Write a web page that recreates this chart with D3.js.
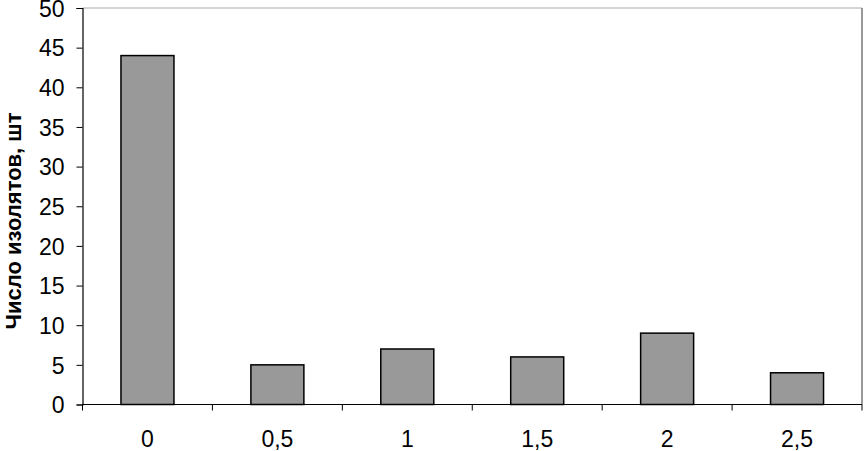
<!DOCTYPE html>
<html><head><meta charset="utf-8">
<script src="https://cdn.jsdelivr.net/npm/d3@7"></script>
<style>body{margin:0;background:#fff}svg{display:block}text{font-family:"Liberation Sans",Arial,sans-serif}</style>
</head><body><svg id="c" width="864" height="451"></svg>
<script>
const categories = ["0","0,5","1","1,5","2","2,5"];
const values = [44,5,7,6,9,4];
const yTicks = [0,5,10,15,20,25,30,35,40,45,50];
const yLabel = "Число изолятов, шт";

const svg = d3.select("#c");
const m = {l:82.5, t:8, r:862, b:404.5};
const xb = d3.scaleBand().domain(categories).range([m.l, m.r]);
const y = d3.scaleLinear().domain([0,50]).range([m.b, m.t]);

// plot border top/right
svg.append("line").attr("x1",m.l).attr("x2",m.r).attr("y1",m.t).attr("y2",m.t).attr("stroke","#aaa").attr("stroke-width",1);
svg.append("line").attr("x1",m.r).attr("x2",m.r).attr("y1",m.t).attr("y2",m.b).attr("stroke","#777").attr("stroke-width",1.5);

svg.selectAll("rect.bar").data(values).join("rect").attr("class","bar")
  .attr("x",(d,i)=>xb(categories[i])+xb.bandwidth()/2-26.5)
  .attr("width",53)
  .attr("y",d=>y(d)).attr("height",d=>m.b-y(d))
  .attr("fill","#999999").attr("stroke","#000").attr("stroke-width",1.5);

const yAxis = svg.append("g").attr("transform",`translate(${m.l},0)`)
  .call(d3.axisLeft(y).tickValues(yTicks).tickSize(6).tickPadding(12));
yAxis.select(".domain").attr("stroke","#000").attr("stroke-width",1.2);
yAxis.selectAll("text").attr("font-size",23).attr("fill","#000").attr("dy","0.36em");

const xAxis = svg.append("g").attr("transform",`translate(0,${m.b})`);
xAxis.append("line").attr("x1",m.l).attr("x2",m.r).attr("stroke","#000").attr("stroke-width",1.2);
xAxis.selectAll("line.tk").data(d3.range(categories.length+1)).join("line").attr("class","tk")
  .attr("x1",i=>m.l+i*xb.step()).attr("x2",i=>m.l+i*xb.step()).attr("y1",0).attr("y2",6).attr("stroke","#000");
xAxis.selectAll("text").data(categories).join("text")
  .attr("x",d=>xb(d)+xb.bandwidth()/2).attr("y",42.5).attr("text-anchor","middle")
  .attr("font-size",23).text(d=>d);

svg.append("text").attr("transform","translate(21,221) rotate(-90)").attr("text-anchor","middle")
  .attr("font-size",22).attr("font-weight","bold").text(yLabel);
</script></body></html>
